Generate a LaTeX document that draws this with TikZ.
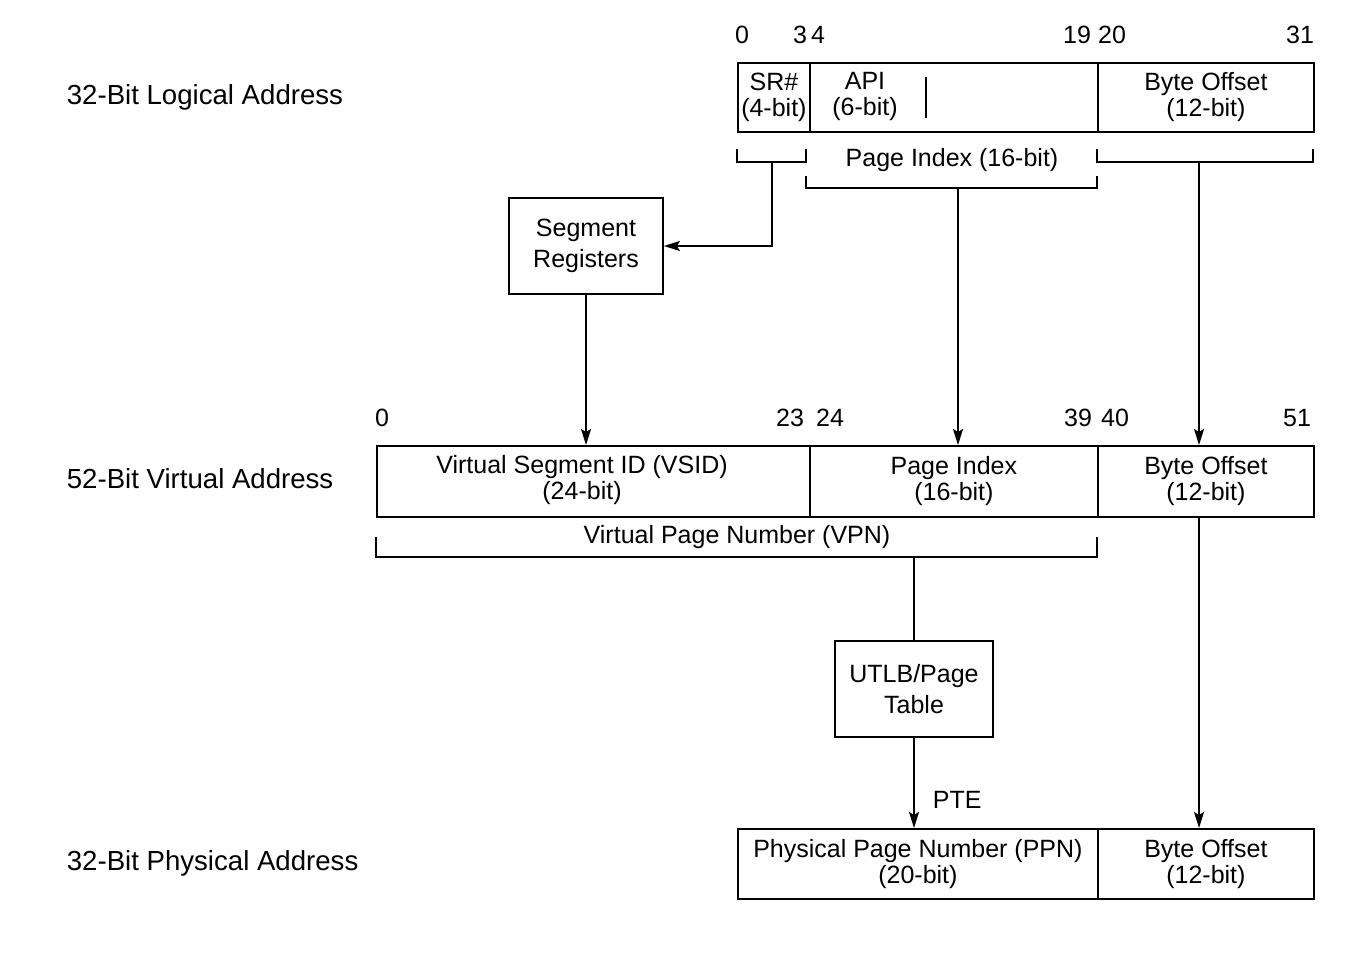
\documentclass[tikz,border=0pt]{standalone}
\usepackage{fontspec}
\setmainfont{Liberation Sans}
\usepackage{tikz}
\usetikzlibrary{
        arrows.meta,
        positioning
    }
\tikzset{>={Stealth[length=8pt,width=5pt,inset=1.5pt]}}
\tikzset{field/.style={draw,inner sep=0pt,anchor=north west,align=center,
        font=\fontsize{12.5}{13}\selectfont}}
\tikzset{unit/.style={draw,inner sep=0pt,align=center,
        font=\fontsize{12.5}{15.5}\selectfont}}
\tikzset{bitnum/.style={inner sep=0pt,font=\fontsize{12.5}{15}\selectfont}}
\tikzset{title/.style={inner sep=0pt,anchor=west,font=\fontsize{13.8}{16}\selectfont}}

\begin{document}
\begin{tikzpicture}[x=0.5pt,y=-0.5pt,line width=0.9pt]
                \useasboundingbox (0,0) rectangle (1358,973);
                % address names
                \node[title] (la) at (66,97)  {32-Bit Logical Address};
                \node[title] (va) at (66,479) {52-Bit Virtual Address};
                \node[title] (pa) at (66,863) {32-Bit Physical Address};
                % logical address
                \node[field,minimum width=36pt,minimum height=34.5pt]  (sr)   at (737,62)  {SR\#\\(4-bit)};
                \node[field,minimum width=144pt,minimum height=34.5pt] (pidx) at (809,62)  {};
                \node[field,minimum width=108pt,minimum height=34.5pt] (lbo)  at (1097,62) {Byte Offset\\(12-bit)};
                \node[bitnum,align=center,font=\fontsize{12.5}{13}\selectfont] (api) at (865,96) {API\\(6-bit)};
                \draw (926,77) -- (926,118);
                \foreach \n/\x in {0/742,3/800,4/818,19/1077,20/1112,31/1300}
                    \node[bitnum] (l\n) at (\x,35) {\n};
                % brackets below the logical address
                \draw (737,149) -- (737,162) -- (806,162) -- (806,149);
                \draw (806,176) -- (806,188) -- (1097,188) -- (1097,176);
                \draw (1097,149) -- (1097,162) -- (1313,162) -- (1313,149);
                \node[bitnum] (pil) at (952,160) {Page Index (16-bit)};
                \coordinate (srb) at (772,162);
                \coordinate (pib) at (958,188);
                \coordinate (bob) at (1199,162);
                % segment registers
                \node[unit,minimum width=77pt,minimum height=48pt] (seg) at (586,246) {Segment\\Registers};
                % virtual address
                \node[field,minimum width=216.5pt,minimum height=35.5pt] (vsid) at (376,445) {};
                \node[field,minimum width=144pt,minimum height=35.5pt]   (vpi)  at (809,445) {Page Index\\(16-bit)};
                \node[field,minimum width=108pt,minimum height=35.5pt]   (vbo)  at (1097,445) {Byte Offset\\(12-bit)};
                \node[bitnum,align=center,font=\fontsize{12.5}{13}\selectfont] (vsidt) at (582,480) {Virtual Segment ID (VSID)\\(24-bit)};
                \foreach \n/\x in {0/382,23/790,24/830,39/1078,40/1115,51/1297}
                    \node[bitnum] (v\n) at (\x,418) {\n};
                \draw (376,537) -- (376,557) -- (1097,557) -- (1097,537);
                \node[bitnum] (vpn) at (737,537) {Virtual Page Number (VPN)};
                \coordinate (vpnb) at (914,557);
                % translation
                \node[unit,minimum width=79pt,minimum height=48pt] (utlb) at (914,689) {UTLB/Page\\Table};
                % physical address
                \node[field,minimum width=180pt,minimum height=35pt] (ppn) at (737,828) {Physical Page Number (PPN)\\(20-bit)};
                \node[field,minimum width=108pt,minimum height=35pt] (pbo) at (1097,828) {Byte Offset\\(12-bit)};
                \path[->]
                    (seg)  edge  (seg |- vsid.north)
                    (pib)  edge  (pib |- vpi.north)
                    (bob)  edge  (bob |- vbo.north)
                    (bob |- vbo.south)  edge  (bob |- pbo.north)
                ;
                \draw[->] (srb) |- (seg.east);
                \draw (vpnb) -- (utlb.north);
                \draw[->] (utlb) -- (utlb |- ppn.north)
                    node[pos=0.69,right=9pt,bitnum] (pte) {PTE};
            \end{tikzpicture}
\end{document}
